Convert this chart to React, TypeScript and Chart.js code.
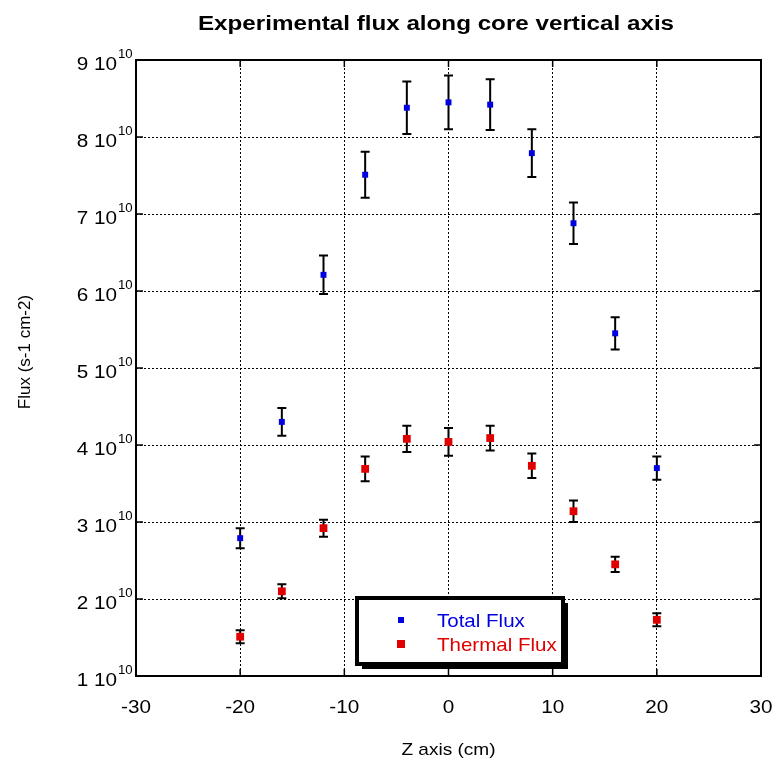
import React, { useEffect, useRef } from 'react';
import { Chart, registerables } from 'chart.js';

Chart.register(...registerables);

const titleText = 'Experimental flux along core vertical axis';
const xAxisTitle = 'Z axis (cm)';
const yAxisTitle = 'Flux (s-1 cm-2)';
const seriesLabels = ['Total Flux', 'Thermal Flux'];
const seriesColors = ['#0000e0', '#e00000'];

const zPositions = [-20, -16, -12, -8, -4, 0, 4, 8, 12, 16, 20];
const totalFlux = [2.79e10, 4.30e10, 6.21e10, 7.51e10, 8.38e10, 8.45e10, 8.42e10, 7.79e10, 6.88e10, 5.45e10, 3.70e10];
const totalFluxErr = [0.13e10, 0.18e10, 0.25e10, 0.30e10, 0.34e10, 0.35e10, 0.33e10, 0.31e10, 0.27e10, 0.21e10, 0.15e10];
const thermalFlux = [1.51e10, 2.10e10, 2.92e10, 3.69e10, 4.08e10, 4.04e10, 4.09e10, 3.73e10, 3.14e10, 2.45e10, 1.73e10];
const thermalFluxErr = [0.085e10, 0.09e10, 0.11e10, 0.16e10, 0.17e10, 0.18e10, 0.16e10, 0.16e10, 0.14e10, 0.10e10, 0.085e10];

const xTickValues = [-30, -20, -10, 0, 10, 20, 30];
const yTickMantissas = [1, 2, 3, 4, 5, 6, 7, 8, 9];
const yTickExponent = '10';

const FONT = '"Liberation Sans", Arial, Helvetica, sans-serif';

function drawText(
  ctx: CanvasRenderingContext2D,
  text: string,
  x: number,
  y: number,
  size: number,
  opts: { bold?: boolean; align?: CanvasTextAlign; sx?: number; color?: string } = {}
) {
  const { bold = false, align = 'left', sx = 1, color = '#000' } = opts;
  ctx.save();
  ctx.font = `${bold ? 'bold ' : ''}${size}px ${FONT}`;
  ctx.fillStyle = color;
  ctx.textBaseline = 'alphabetic';
  ctx.textAlign = align;
  ctx.translate(x, y);
  ctx.scale(sx, 1);
  ctx.fillText(text, 0, 0);
  ctx.restore();
}

const decorPlugin = {
  id: 'decor',
  beforeDatasetsDraw(chart: any) {
    const ctx = chart.ctx as CanvasRenderingContext2D;
    const xs = chart.scales.x;
    const ys = chart.scales.y;
    const sets = [
      { vals: totalFlux, errs: totalFluxErr },
      { vals: thermalFlux, errs: thermalFluxErr },
    ];
    ctx.save();
    ctx.strokeStyle = '#000';
    ctx.lineWidth = 2;
    sets.forEach(({ vals, errs }) => {
      zPositions.forEach((z, i) => {
        const px = xs.getPixelForValue(z);
        const top = ys.getPixelForValue(vals[i] + errs[i]);
        const bot = ys.getPixelForValue(vals[i] - errs[i]);
        ctx.beginPath();
        ctx.moveTo(px, top);
        ctx.lineTo(px, bot);
        ctx.moveTo(px - 4.5, top);
        ctx.lineTo(px + 4.5, top);
        ctx.moveTo(px - 4.5, bot);
        ctx.lineTo(px + 4.5, bot);
        ctx.stroke();
      });
    });
    ctx.restore();
  },
  afterDraw(chart: any) {
    const ctx = chart.ctx as CanvasRenderingContext2D;
    const { left, right, top, bottom } = chart.chartArea;
    const xs = chart.scales.x;
    const ys = chart.scales.y;

    // frame
    ctx.save();
    ctx.strokeStyle = '#000';
    ctx.lineWidth = 2;
    ctx.strokeRect(left, top, right - left, bottom - top);

    // inner tick marks
    ctx.lineWidth = 1.5;
    ctx.beginPath();
    xTickValues.forEach((v) => {
      const px = xs.getPixelForValue(v);
      ctx.moveTo(px, bottom);
      ctx.lineTo(px, bottom - 7);
      ctx.moveTo(px, top);
      ctx.lineTo(px, top + 7);
    });
    yTickMantissas.forEach((m) => {
      const py = ys.getPixelForValue(m * 1e10);
      ctx.moveTo(left, py);
      ctx.lineTo(left + 7, py);
      ctx.moveTo(right, py);
      ctx.lineTo(right - 7, py);
    });
    ctx.stroke();
    ctx.restore();

    // x tick labels
    xTickValues.forEach((v) => {
      drawText(ctx, String(v), xs.getPixelForValue(v), bottom + 37, 18, { align: 'center', sx: 1.15 });
    });

    // y tick labels with superscript exponent
    yTickMantissas.forEach((m) => {
      const py = ys.getPixelForValue(m * 1e10);
      drawText(ctx, `${m} 10`, left - 19, py + 10, 18, { align: 'right', sx: 1.15 });
      drawText(ctx, yTickExponent, left - 18, py - 2, 12, { align: 'left', sx: 1.1 });
    });

    // title
    drawText(ctx, titleText, 436, 30, 20, { bold: true, align: 'center', sx: 1.21 });

    // x axis title
    drawText(ctx, xAxisTitle, (left + right) / 2, 755, 17, { align: 'center', sx: 1.12 });

    // y axis title (rotated)
    ctx.save();
    ctx.translate(30, 352);
    ctx.rotate(-Math.PI / 2);
    ctx.font = `17px ${FONT}`;
    ctx.fillStyle = '#000';
    ctx.textAlign = 'center';
    ctx.textBaseline = 'alphabetic';
    ctx.fillText(yAxisTitle, 0, 0);
    ctx.restore();

    // legend box
    const lx = 357, ly = 598, lw = 206, lh = 66;
    ctx.save();
    ctx.fillStyle = '#000';
    ctx.fillRect(lx + 5, ly + 5, lw, lh);
    ctx.fillStyle = '#fff';
    ctx.fillRect(lx, ly, lw, lh);
    ctx.strokeStyle = '#000';
    ctx.lineWidth = 4;
    ctx.strokeRect(lx, ly, lw, lh);
    ctx.restore();

    const rows = [
      { label: seriesLabels[0], color: seriesColors[0], size: 6, y: ly + 22 },
      { label: seriesLabels[1], color: seriesColors[1], size: 8, y: ly + 46 },
    ];
    rows.forEach((r) => {
      ctx.fillStyle = r.color;
      ctx.fillRect(lx + 44 - r.size / 2, r.y - r.size / 2, r.size, r.size);
      drawText(ctx, r.label, lx + 80, r.y + 7, 19, { color: r.color, sx: 1.08 });
    });
  },
};

export default function App() {
  const canvasRef = useRef<HTMLCanvasElement | null>(null);

  useEffect(() => {
    document.body.style.margin = '0';
    const canvas = canvasRef.current;
    if (!canvas) return;
    const chart = new Chart(canvas, {
      type: 'scatter',
      data: {
        datasets: [
          {
            label: seriesLabels[0],
            data: zPositions.map((z, i) => ({ x: z, y: totalFlux[i] })),
            backgroundColor: seriesColors[0],
            borderColor: seriesColors[0],
            pointStyle: 'rect',
            pointRadius: 4.2,
            borderWidth: 0,
            pointBorderWidth: 0,
          },
          {
            label: seriesLabels[1],
            data: zPositions.map((z, i) => ({ x: z, y: thermalFlux[i] })),
            backgroundColor: seriesColors[1],
            borderColor: seriesColors[1],
            pointStyle: 'rect',
            pointRadius: 5.5,
            borderWidth: 0,
            pointBorderWidth: 0,
          },
        ],
      },
      options: {
        responsive: false,
        animation: false,
        devicePixelRatio: 1,
        layout: { padding: { top: 60, right: 16, left: 0, bottom: 0 } },
        plugins: {
          legend: { display: false },
          tooltip: { enabled: false },
          title: { display: false },
        },
        scales: {
          x: {
            type: 'linear',
            min: -30,
            max: 30,
            ticks: { stepSize: 10, display: false },
            grid: { color: '#000', lineWidth: 1, drawTicks: false },
            border: { display: false, dash: [2, 2] },
            afterFit: (s: any) => {
              s.height = 93;
            },
          },
          y: {
            type: 'linear',
            min: 1e10,
            max: 9e10,
            ticks: { stepSize: 1e10, display: false },
            grid: { color: '#000', lineWidth: 1, drawTicks: false },
            border: { display: false, dash: [2, 2] },
            afterFit: (s: any) => {
              s.width = 136;
            },
          },
        },
      },
      plugins: [decorPlugin],
    });
    return () => chart.destroy();
  }, []);

  return <canvas ref={canvasRef} width={777} height={769} style={{ display: 'block' }} />;
}
